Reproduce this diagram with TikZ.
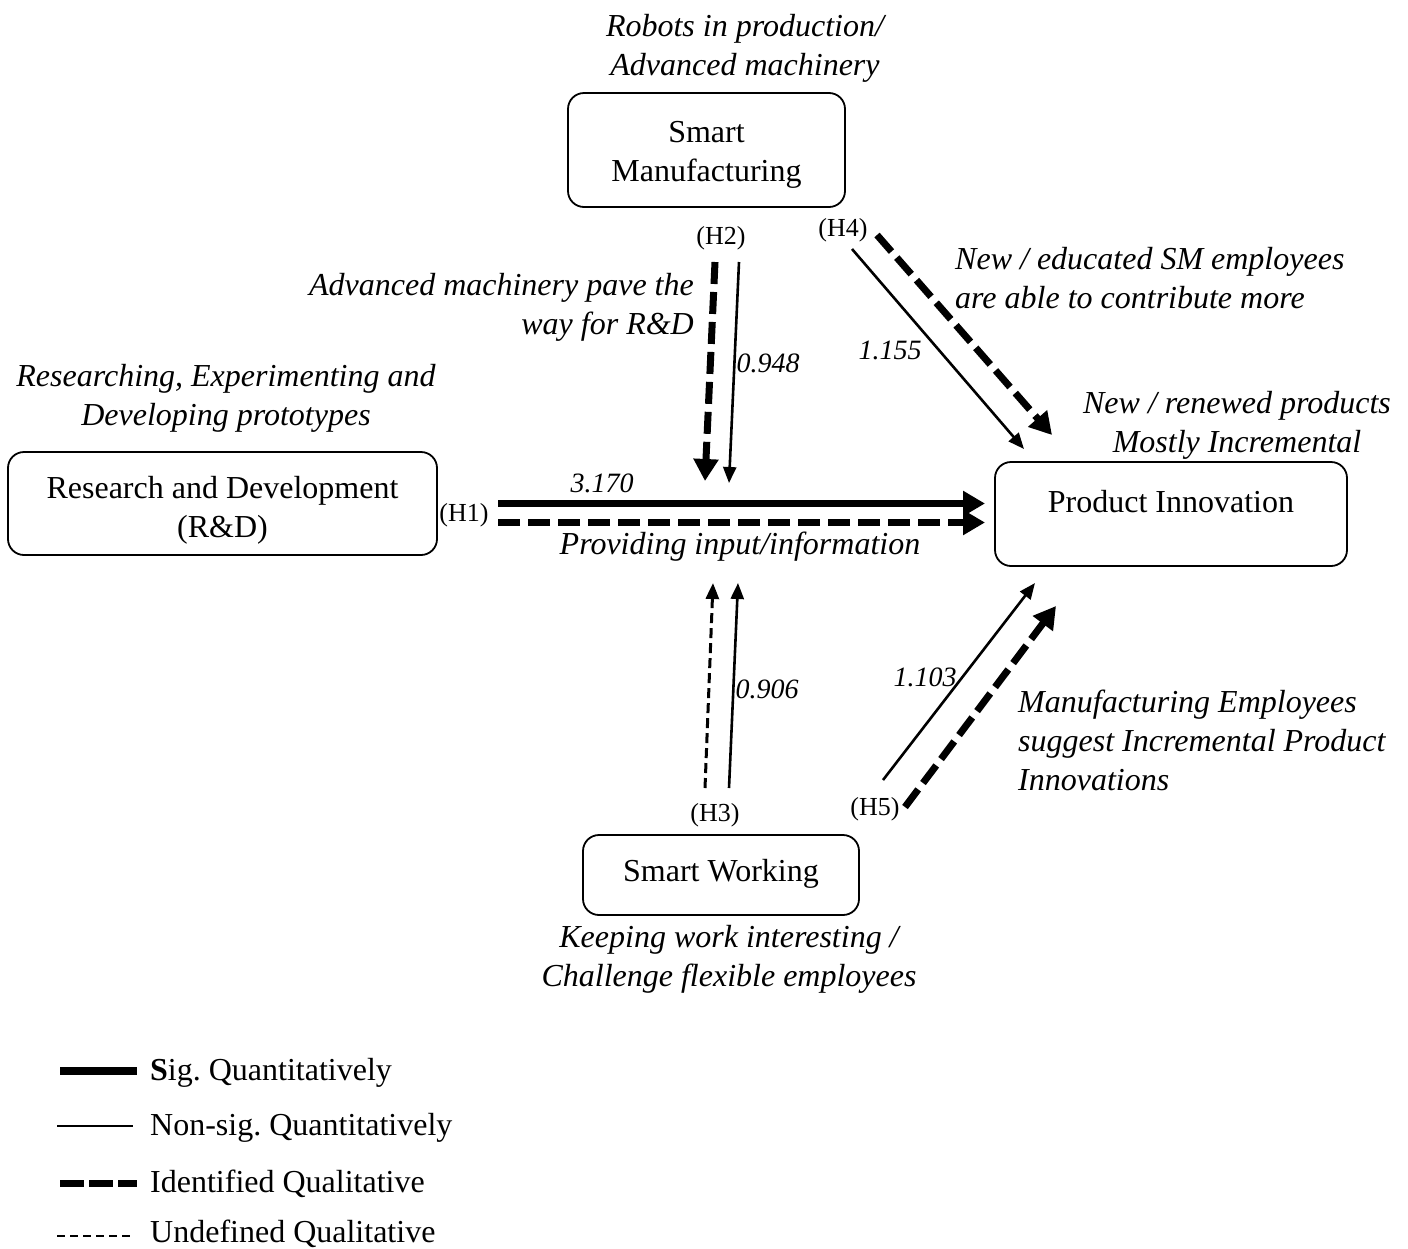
\documentclass[tikz,border=0pt]{standalone}
\usepackage{fontspec}
\setmainfont{Liberation Serif}
\usetikzlibrary{arrows.meta}
\frenchspacing
\begin{document}
\begin{tikzpicture}[x=1pt,y=-1pt,
  box/.style={draw, line width=1.8pt, rounded corners=16pt, inner sep=0pt},
  txt/.style={font=\fontsize{32}{39}\selectfont, inner sep=0pt, align=center},
  itx/.style={font=\fontsize{32}{39}\selectfont\itshape, inner sep=0pt},
  hyp/.style={font=\fontsize{26}{28}\selectfont, inner sep=0pt},
  coef/.style={font=\fontsize{28}{32}\selectfont\itshape, inner sep=0pt},
  legtxt/.style={font=\fontsize{32}{39}\selectfont, inner sep=0pt, anchor=base west},
  sigline/.style={line width=7pt, -{Triangle[length=22pt,width=24pt]}},
  idline/.style={line width=7pt, dash pattern=on 22pt off 8pt, -{Triangle[length=22pt,width=24pt]}},
  nsline/.style={line width=2.6pt, -{Triangle[length=16pt,width=13pt]}},
  unline/.style={line width=3pt, dash pattern=on 10pt off 5pt, -{Triangle[length=16pt,width=13pt]}},
]
\useasboundingbox (0,0) rectangle (1408,1248);

% boxes
\node[box, minimum width=277pt, minimum height=114pt] (sm) at (706.5,150) {};
\node[box, minimum width=429pt, minimum height=103pt] (rd) at (222.5,503.5) {};
\node[box, minimum width=352pt, minimum height=104pt] (pi) at (1171,514) {};
\node[box, minimum width=276pt, minimum height=80pt] (sw) at (721,875) {};

\node[txt] (smt) at (706.5,155) {Smart\\Manufacturing};
\node[txt] (rdt) at (222.5,510) {Research and Development\\(R\&D)};
\node[txt] (pit) at (1171,502) {Product Innovation};
\node[txt] (swt) at (721,874) {Smart Working};

% descriptive labels
\node[itx, align=center] (l1) at (745,48) {Robots in production/\\Advanced machinery};
\node[itx, align=right, anchor=east] (l2) at (694,307) {Advanced machinery pave the\\way for R\&D};
\node[itx, align=center] (l3) at (226,398) {Researching, Experimenting and\\Developing prototypes};
\node[itx, align=left, anchor=west] (l4) at (955,278) {New / educated SM employees\\are able to contribute more};
\node[itx, align=center] (l5) at (1237,425) {New / renewed products\\Mostly Incremental};
\node[itx] (l6) at (740,547) {Providing input/information};
\node[itx, align=left, anchor=west] (l7) at (1018,740) {Manufacturing Employees\\suggest Incremental Product\\Innovations};
\node[itx, align=center] (l8) at (729,959) {Keeping work interesting /\\Challenge flexible employees};

% hypothesis labels
\node[hyp] (h1) at (464,515) {(H1)};
\node[hyp] (h2) at (721,238) {(H2)};
\node[hyp] (h4) at (843,230) {(H4)};
\node[hyp] (h3) at (715,815) {(H3)};
\node[hyp] (h5) at (875,809) {(H5)};

% coefficients
\node[coef] (c1) at (602,483) {3.170};
\node[coef] (c2) at (768,363) {0.948};
\node[coef] (c4) at (890,350) {1.155};
\node[coef] (c3) at (767,689) {0.906};
\node[coef] (c5) at (925,677) {1.103};

% connector end points
\coordinate (h1sa) at (498,503.5);  \coordinate (h1sb) at (985,503.5);
\coordinate (h1da) at (498,522.5);  \coordinate (h1db) at (985,522.5);
\coordinate (h2da) at (715,262);  \coordinate (h2db) at (705,481);
\coordinate (h2sa) at (739,262);  \coordinate (h2sb) at (729,483);
\coordinate (h4sa) at (852,249);  \coordinate (h4sb) at (1024,449);
\coordinate (h4da) at (877,235);  \coordinate (h4db) at (1052,435);
\coordinate (h3da) at (705,788);  \coordinate (h3db) at (713,583);
\coordinate (h3sa) at (729,788);  \coordinate (h3sb) at (738,583);
\coordinate (h5sa) at (883,780);  \coordinate (h5sb) at (1035,583);
\coordinate (h5da) at (905,807);  \coordinate (h5db) at (1056,606);

\draw[sigline] (h1sa) -- (h1sb);
\draw[idline]  (h1da) -- (h1db);
\draw[idline]  (h2da) -- (h2db);
\draw[nsline]  (h2sa) -- (h2sb);
\draw[nsline]  (h4sa) -- (h4sb);
\draw[idline]  (h4da) -- (h4db);
\draw[unline]  (h3da) -- (h3db);
\draw[nsline]  (h3sa) -- (h3sb);
\draw[nsline]  (h5sa) -- (h5sb);
\draw[idline]  (h5da) -- (h5db);

% legend
\coordinate (g1a) at (60,1071);  \coordinate (g1b) at (137,1071);
\coordinate (g2a) at (57,1126);  \coordinate (g2b) at (133,1126);
\coordinate (g3a) at (60,1183);  \coordinate (g3b) at (137,1183);
\coordinate (g4a) at (57,1236);  \coordinate (g4b) at (133,1236);
\draw[line width=8pt] (g1a) -- (g1b);
\draw[line width=1.5pt] (g2a) -- (g2b);
\draw[line width=7pt, dash pattern=on 24pt off 5pt] (g3a) -- (g3b);
\draw[line width=2pt, dash pattern=on 8pt off 5pt] (g4a) -- (g4b);
\node[legtxt] (t1) at (150,1080) {\textbf{S}ig. Quantitatively};
\node[legtxt] (t2) at (150,1135) {Non-sig. Quantitatively};
\node[legtxt] (t3) at (150,1192) {Identified Qualitative};
\node[legtxt] (t4) at (150,1242) {Undefined Qualitative};
\end{tikzpicture}
\end{document}
